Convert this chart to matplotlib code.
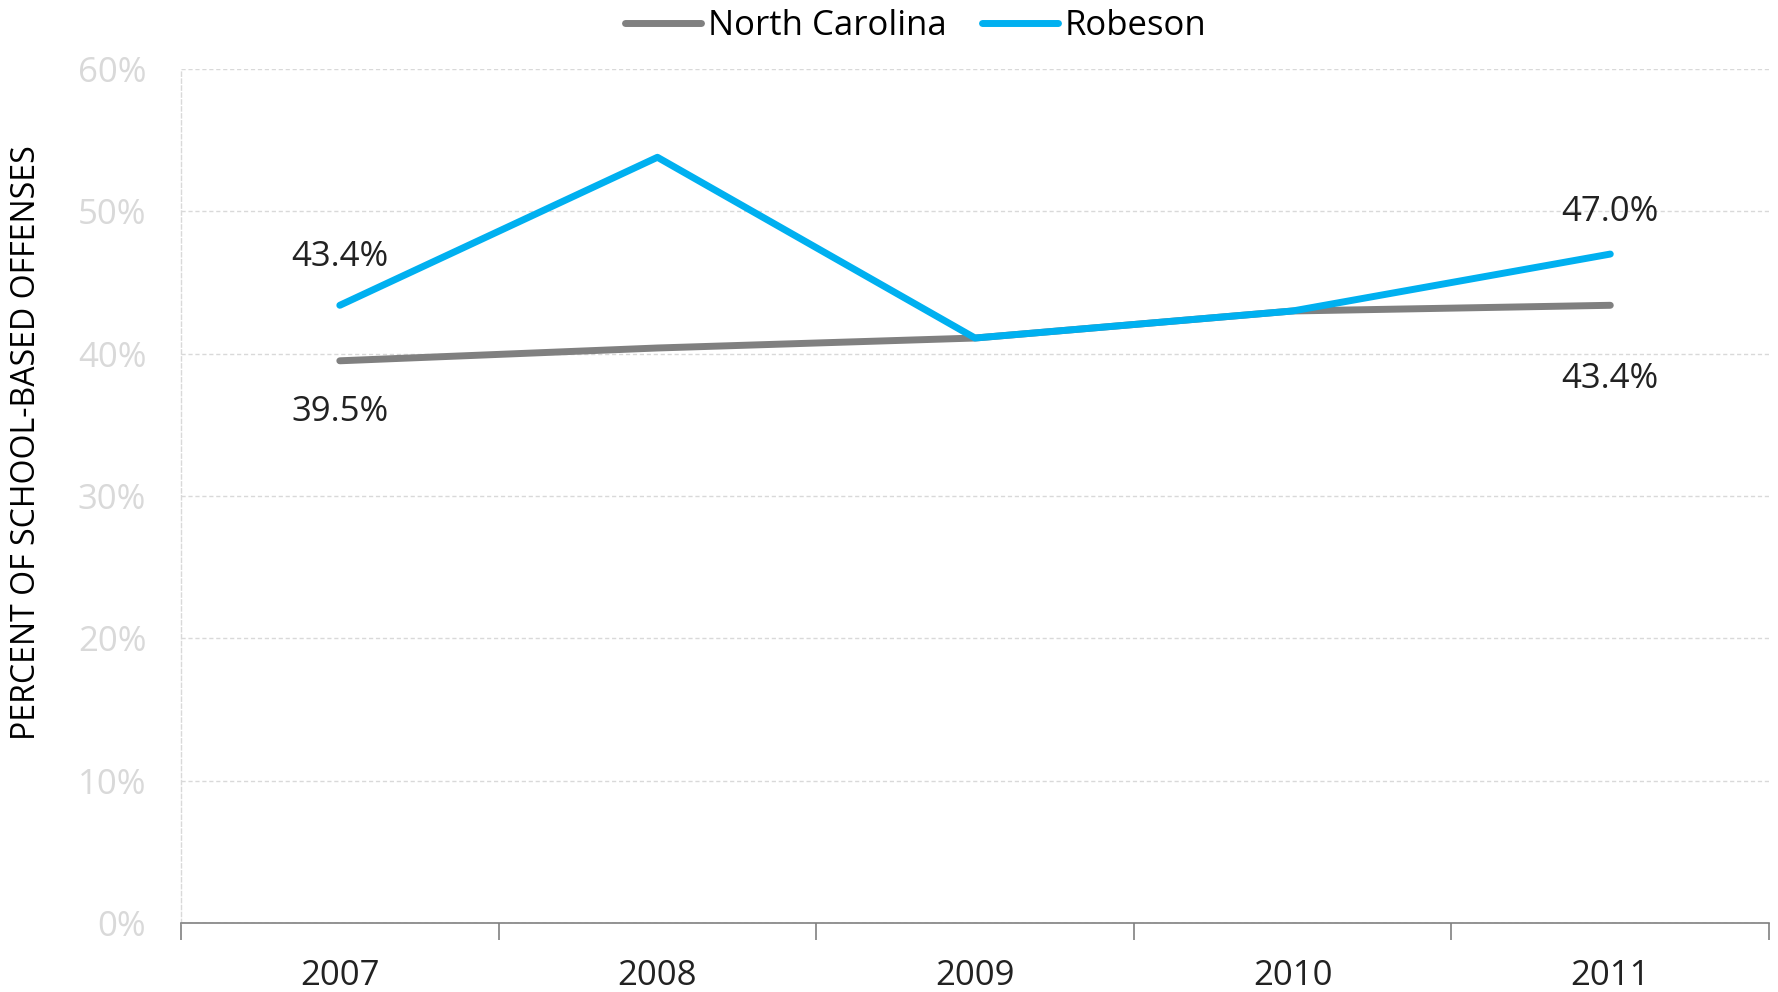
import matplotlib
matplotlib.use("Agg")
import matplotlib.pyplot as plt
import numpy as np
from matplotlib.ticker import FixedLocator, PercentFormatter

plt.rcParams['font.family'] = ['Open Sans', 'DejaVu Sans']

years = ["2007", "2008", "2009", "2010", "2011"]
north_carolina = [39.5, 40.4, 41.1, 43.0, 43.4]
robeson = [43.4, 53.8, 41.1, 43.0, 47.0]
y_ticks = [0, 10, 20, 30, 40, 50, 60]

fig = plt.figure(figsize=(17.78, 9.92), dpi=100)
ax = fig.add_axes([0.1018, 0.0696, 0.8932, 0.8608])

x = np.arange(len(years))
ax.plot(x, north_carolina, color='#808080', lw=5, solid_capstyle='round', label='North Carolina')
ax.plot(x, robeson, color='#00B0F0', lw=5, solid_capstyle='round', label='Robeson')

# data labels at first and last year
labels = [
  (0, robeson[0], 35),
  (0, north_carolina[0], -37),
  (4, robeson[4], 30),
  (4, north_carolina[4], -53),
]
for xi, val, off in labels:
  ax.annotate(f"{val:.1f}%", (xi, val), xytext=(0, off), textcoords='offset points',
              ha='center', va='center', fontsize=25, color='#222222')

ax.set_xlim(-0.5, len(years) - 0.5)
ax.set_ylim(0, 60)
ax.yaxis.set_major_locator(FixedLocator(y_ticks))
ax.yaxis.set_major_formatter(PercentFormatter(decimals=0))
ax.tick_params(axis='y', length=0, labelsize=25, labelcolor='#D9D9D9', pad=25)
ax.grid(axis='y', color='#D9D9D9', ls=(0, (3, 2)), lw=1)

# category labels centered, tick marks between categories
ax.set_xticks(x)
ax.set_xticklabels(years)
ax.set_xticks(np.arange(len(years) + 1) - 0.5, minor=True)
ax.tick_params(axis='x', which='major', length=0, labelsize=25, labelcolor='#222222', pad=26)
ax.tick_params(axis='x', which='minor', length=12, color='#808080', width=1.2, direction='out')

ax.spines['top'].set_visible(False)
ax.spines['right'].set_visible(False)
ax.spines['bottom'].set_color('#808080')
ax.spines['bottom'].set_linewidth(1.2)
ax.spines['left'].set_color('#D9D9D9')
ax.spines['left'].set_linestyle((0, (3, 2)))
ax.spines['left'].set_linewidth(1)

fig.text(0.015, 0.554, 'PERCENT OF SCHOOL-BASED OFFENSES', rotation=90, ha='center', va='center',
         fontsize=23, color='black')

fig.legend(loc='upper center', bbox_to_anchor=(0.515, 1.022), ncol=2, frameon=False,
           fontsize=25, handlelength=2.2, handletextpad=0.2, columnspacing=1.0)

plt.savefig('out.png', dpi=100)
